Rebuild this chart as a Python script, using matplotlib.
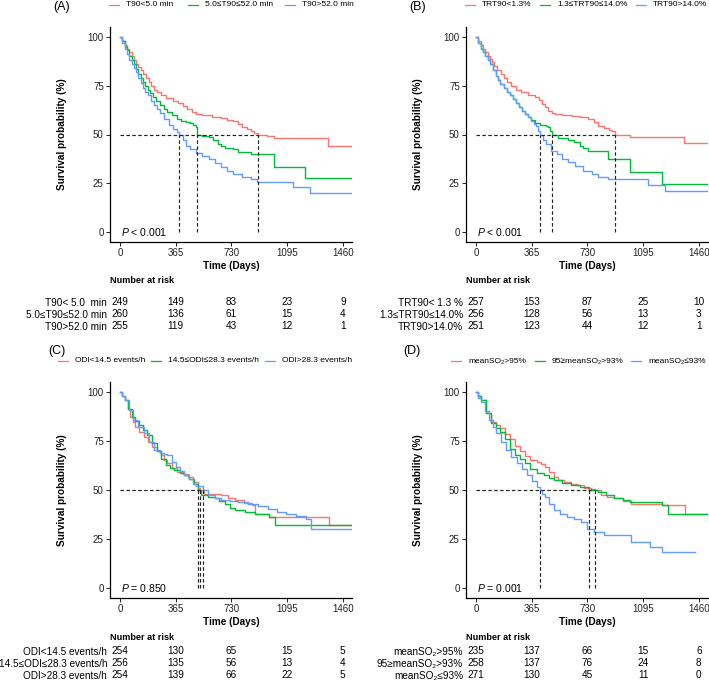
import numpy as np
import matplotlib.pyplot as plt
from matplotlib.lines import Line2D

plt.rcParams['font.family'] = ['Liberation Sans', 'DejaVu Sans']
plt.rcParams['mathtext.fontset'] = 'custom'
plt.rcParams['mathtext.it'] = 'Liberation Sans:italic'
plt.rcParams['mathtext.rm'] = 'Liberation Sans'

# ---------------------------------------------------------------------------
# data (days, survival %)
# ---------------------------------------------------------------------------
time_ticks = [0, 365, 730, 1095, 1460]

# (A) T90
t90_low_t = [0, 15, 30, 45, 60, 75, 90, 105, 120, 135, 150, 170, 190, 205, 225, 245, 270, 300, 345, 380,
             410, 440, 470, 500, 540, 600, 660, 700, 740, 770, 800, 830, 860, 880, 905, 960, 1010, 1362, 1530]
t90_low_s = [100, 98, 96, 94, 92, 90, 88, 86, 84.5, 83, 81, 79, 77, 75, 73, 71.5, 70, 68.5, 67, 66,
             64.5, 63, 61.5, 60.5, 60, 59, 58.5, 57.5, 57, 55.5, 54, 53, 52, 51, 50, 49, 48, 44.3, 44.3]
t90_mid_t = [0, 15, 30, 45, 60, 75, 90, 105, 120, 135, 150, 165, 180, 195, 215, 235, 260, 285, 310, 340,
             370, 400, 430, 460, 480, 500, 507, 540, 580, 610, 640, 660, 690, 740, 770, 860, 1012, 1210, 1530]
t90_mid_s = [100, 98, 95, 93, 90, 88, 86, 83.5, 81, 79, 77, 75, 73, 71, 69, 67, 65, 63, 61.5, 60,
             58, 57, 56.5, 56, 55, 54, 50, 49, 48.5, 47, 45, 44, 43, 42.5, 41, 40, 33.6, 28, 28]
t90_high_t = [0, 15, 30, 45, 60, 75, 90, 105, 120, 135, 150, 165, 180, 200, 220, 240, 260, 290, 320, 350,
              375, 389, 410, 430, 460, 500, 540, 580, 620, 660, 700, 740, 800, 860, 900, 1132, 1242, 1530]
t90_high_s = [100, 97, 94, 91, 88, 86, 84, 82, 79, 76.5, 74, 72, 70, 67, 65, 63, 61, 58, 55, 53,
              51.5, 50, 47, 44, 42.5, 40.5, 39, 37.5, 35.5, 33.5, 31.5, 30, 28.5, 27, 25.6, 23, 20, 20]
t90_legend = ['T90<5.0 min', '5.0≤T90≤52.0 min', 'T90>52.0 min']
t90_table = ['T90< 5.0  min', '5.0≤T90≤52.0 min', 'T90>52.0 min']
t90_risk = [[249, 149, 83, 23, 9], [260, 136, 61, 15, 4], [255, 119, 43, 12, 1]]
t90_p = '$P$ < 0.001'

# (B) TRT90
trt_low_t = [0, 15, 30, 45, 60, 75, 90, 105, 120, 140, 165, 185, 205, 230, 260, 296, 340, 384, 410,
             430, 450, 472, 500, 516, 560, 626, 680, 735, 770, 801, 840, 870, 890, 913, 960, 1010, 1361, 1530]
trt_low_s = [100, 98, 96, 94, 92, 90, 88.5, 87, 85, 83, 81, 79, 77, 75, 73, 71.6, 70, 69, 67.5,
             65.6, 64, 62, 61, 60.5, 60, 59.6, 59, 58, 56.5, 54.5, 53.5, 52.5, 52, 50, 49.5, 48.6, 45.5, 45.5]
trt_mid_t = [0, 15, 30, 45, 60, 75, 90, 110, 130, 145, 160, 180, 200, 220, 240, 260, 280, 300, 320,
             340, 360, 384, 420, 460, 472, 485, 498, 540, 604, 640, 680, 700, 735, 867, 1010, 1218, 1530]
trt_mid_s = [100, 97, 94, 92, 90, 88, 86, 83, 80, 78, 76, 74, 72, 70, 68, 66, 64, 62, 60.5,
             59, 57.5, 56, 55, 54.5, 54, 52, 50, 48, 47, 46, 44, 43, 41.8, 37.5, 31, 24.7, 24.7]
trt_high_t = [0, 15, 30, 45, 60, 75, 90, 110, 130, 145, 160, 180, 200, 220, 240, 260, 280, 300, 320, 340,
              360, 380, 395, 405, 421, 440, 460, 494, 530, 560, 600, 648, 700, 757, 800, 867, 1130, 1240, 1530]
trt_high_s = [100, 97, 94, 92, 90, 88, 86, 83, 80, 78, 76, 74, 72, 70, 68, 66, 64, 62, 60.5, 59,
              57, 55.5, 54.5, 52, 50, 47, 45, 41.7, 40, 37.5, 36, 34, 31.5, 29.8, 28.5, 27.3, 24.4, 21.3, 21.3]
trt_legend = ['TRT90<1.3%', '1.3≤TRT90≤14.0%', 'TRT90>14.0%']
trt_table = ['TRT90< 1.3 %', '1.3≤TRT90≤14.0%', 'TRT90>14.0%']
trt_risk = [[257, 153, 87, 25, 10], [256, 128, 56, 13, 3], [251, 123, 44, 12, 1]]
trt_p = '$P$ < 0.001'

# (C) ODI
odi_low_t = [0, 15, 33, 50, 66, 83, 100, 125, 155, 180, 210, 240, 265, 290, 310, 340, 376, 410, 442,
             480, 509, 526, 553, 600, 664, 710, 752, 810, 863, 885, 973, 1371, 1530]
odi_low_s = [100, 98, 96, 91, 87.4, 84.5, 82, 79.5, 77, 74.5, 72, 70, 68, 65.5, 63.5, 61, 59, 58, 56.7,
             54, 51, 50, 48.2, 48, 47.4, 46, 44.8, 43.5, 42.2, 38, 36.3, 32, 32]
odi_mid_t = [0, 15, 33, 55, 77, 100, 122, 150, 177, 210, 243, 270, 299, 325, 354, 390, 420, 455, 487,
             509, 531, 575, 619, 650, 686, 720, 752, 820, 885, 973, 1017, 1530]
odi_mid_s = [100, 98, 96, 91, 87.4, 85, 83, 80.5, 78, 74, 70, 66, 62.7, 61, 60, 58.5, 57.6, 55.5, 53.3,
             50, 47.4, 46.5, 45.7, 44.5, 43, 41, 39.7, 39, 38, 36.3, 32, 32]
odi_high_t = [0, 15, 33, 60, 88, 120, 155, 190, 221, 260, 290, 310, 340, 365, 390, 420, 450, 476, 500,
              544, 575, 620, 664, 720, 774, 840, 907, 970, 1029, 1090, 1150, 1216, 1250, 1530]
odi_high_s = [100, 98, 96, 90.5, 85.7, 82, 78.9, 74.5, 70.4, 69, 68.5, 67.8, 64.5, 61.8, 59.5, 57.6, 55.5, 53.3, 52,
              50, 47.4, 46, 44.8, 44.4, 44, 43, 41.7, 40.5, 38.8, 38, 37, 35.4, 30.3, 30.3]
odi_legend = ['ODI<14.5 events/h', '14.5≤ODI≤28.3 events/h', 'ODI>28.3 events/h']
odi_table = odi_legend
odi_risk = [[254, 130, 65, 15, 5], [256, 135, 56, 13, 4], [254, 139, 66, 22, 5]]
odi_p = '$P$ = 0.850'

# (D) mean SO2
so2_high_t = [0, 15, 33, 66, 100, 128, 155, 190, 221, 255, 288, 320, 354, 398, 425, 453, 480, 509, 540,
              575, 620, 664, 710, 752, 779, 819, 860, 907, 960, 1017, 1217, 1371, 1530]
so2_high_s = [100, 98, 96, 89, 84.8, 83, 81.4, 78.5, 76, 72.5, 70, 67.5, 65.5, 64.4, 63, 61.8, 59, 56.7, 55.3,
              54, 53, 52.5, 51, 50.5, 50, 47.4, 46.5, 45.7, 44.5, 43.1, 42.2, 38, 38]
so2_mid_t = [0, 15, 33, 66, 100, 128, 155, 190, 221, 255, 288, 320, 354, 400, 442, 475, 509, 560, 619,
             680, 739, 796, 850, 907, 960, 1006, 1217, 1261, 1530]
so2_mid_s = [100, 98, 96, 89, 84, 81.5, 79.5, 76, 71, 68, 66, 63.5, 60.5, 58.5, 57.6, 56, 55, 53.5, 52.5,
             51.5, 50, 49, 47.5, 45.7, 45, 44, 42.2, 38, 38]
so2_low_t = [0, 15, 33, 60, 88, 110, 133, 165, 199, 230, 265, 300, 332, 365, 398, 420, 435, 453, 480,
             509, 550, 597, 640, 686, 730, 774, 841, 1017, 1080, 1139, 1217, 1438]
so2_low_s = [100, 97, 95, 90, 85.7, 82, 78.9, 74.5, 70.4, 67, 63.5, 60.5, 57.6, 54.5, 51.7, 50, 48.2, 46.5, 43,
             39.7, 37.8, 36.3, 35, 33.7, 30.3, 28.6, 26.9, 23.5, 23.5, 21, 18.4, 18.4]
so2_legend = ['meanSO₂>95%', '95≥meanSO₂>93%', 'meanSO₂≤93%']
so2_table = so2_legend
so2_risk = [[235, 137, 66, 15, 6], [258, 137, 76, 24, 8], [271, 130, 45, 11, 0]]
so2_p = '$P$ = 0.001'

colors = ['#F8766D', '#00BA38', '#619CFF']

# ---------------------------------------------------------------------------
W, H = 709, 690
fig = plt.figure(figsize=(W / 100, H / 100), dpi=100)


def rect(left, top, right, bottom):
    return [left / W, 1 - bottom / H, (right - left) / W, (bottom - top) / H]


def draw_panel(ax_box, tab_box, title_y, tag, tag_xy, series, legend, table_labels, risk, pval,
               legend_y, legend_x):
    ax = fig.add_axes(rect(*ax_box))
    medians = []
    for (t, s), c in zip(series, colors):
        t = np.asarray(t)
        s = np.asarray(s)
        ax.plot(t, s, drawstyle='steps-post', color=c, lw=1.0)
        medians.append(t[np.argmax(s <= 50)])
    dash = dict(color='#222222', lw=0.85, ls=(0, (3, 2)))
    ax.plot([0, max(medians)], [50, 50], **dash)
    for m in medians:
        ax.plot([m, m], [0, 50], **dash)

    ax.set_xlim(-66, 1520)
    ax.set_ylim(-5, 105)
    ax.set_xticks(time_ticks)
    ax.set_yticks([0, 25, 50, 75, 100])
    for sp in ['top', 'right']:
        ax.spines[sp].set_visible(False)
    for sp in ['left', 'bottom']:
        ax.spines[sp].set_linewidth(0.9)
    ax.tick_params(length=3, width=0.6, pad=1.5, labelsize=7, labelcolor='#222222')
    ax.set_xlabel('Time (Days)', fontweight='bold', fontsize=7.2, labelpad=2)
    ax.set_ylabel('Survival probability (%)', fontweight='bold', fontsize=7.2)
    ax.yaxis.set_label_coords(-0.176, 0.5)
    ax.text(5, 0, pval, fontsize=7.5, ha='left', va='center')

    # number at risk table
    tab = fig.add_axes(rect(*tab_box))
    tab.set_xlim(-66, 1520)
    tab.set_ylim(-0.5, 2.5)
    for i, row in enumerate(risk):
        for tt, n in zip(time_ticks, row):
            tab.text(tt, 2 - i, str(n), ha='center', va='center', fontsize=7.2)
    tab.set_xticks([])
    tab.set_yticks([2, 1, 0])
    tab.set_yticklabels(table_labels)
    tab.tick_params(length=0, pad=2, labelsize=7.2)
    for sp in tab.spines.values():
        sp.set_visible(False)
    tab.patch.set_visible(False)
    fig.text(tab_box[0] / W, 1 - title_y / H, 'Number at risk',
             fontweight='bold', fontsize=6.6, ha='left', va='center')

    # legend on top
    yl = 1 - legend_y / H
    for lab, tx, c in zip(legend, legend_x, colors):
        fig.add_artist(Line2D([(tx - 17) / W, (tx - 7) / W], [yl, yl], color=c, lw=0.9))
        fig.text(tx / W, yl, lab, fontsize=6.0, ha='left', va='center')
    fig.text(tag_xy[0] / W, 1 - tag_xy[1] / H, tag, fontsize=9, ha='center', va='center')


draw_panel((110, 27, 352, 242), (110, 296, 352, 332), 281, '(A)', (62, 7),
           [(t90_low_t, t90_low_s), (t90_mid_t, t90_mid_s), (t90_high_t, t90_high_s)],
           t90_legend, t90_table, t90_risk, t90_p, 5, [126, 205, 302])
draw_panel((466, 27, 708, 242), (466, 296, 708, 332), 281, '(B)', (418, 7),
           [(trt_low_t, trt_low_s), (trt_mid_t, trt_mid_s), (trt_high_t, trt_high_s)],
           trt_legend, trt_table, trt_risk, trt_p, 5, [482, 557, 653])
draw_panel((110, 382, 352, 598), (110, 645, 352, 681), 637, '(C)', (57, 351),
           [(odi_low_t, odi_low_s), (odi_mid_t, odi_mid_s), (odi_high_t, odi_high_s)],
           odi_legend, odi_table, odi_risk, odi_p, 361, [75, 168, 282])
draw_panel((466, 382, 708, 598), (466, 645, 708, 681), 637, '(D)', (412, 351),
           [(so2_high_t, so2_high_s), (so2_mid_t, so2_mid_s), (so2_low_t, so2_low_s)],
           so2_legend, so2_table, so2_risk, so2_p, 361, [468, 552, 648])

fig.savefig('out.png', dpi=100)
